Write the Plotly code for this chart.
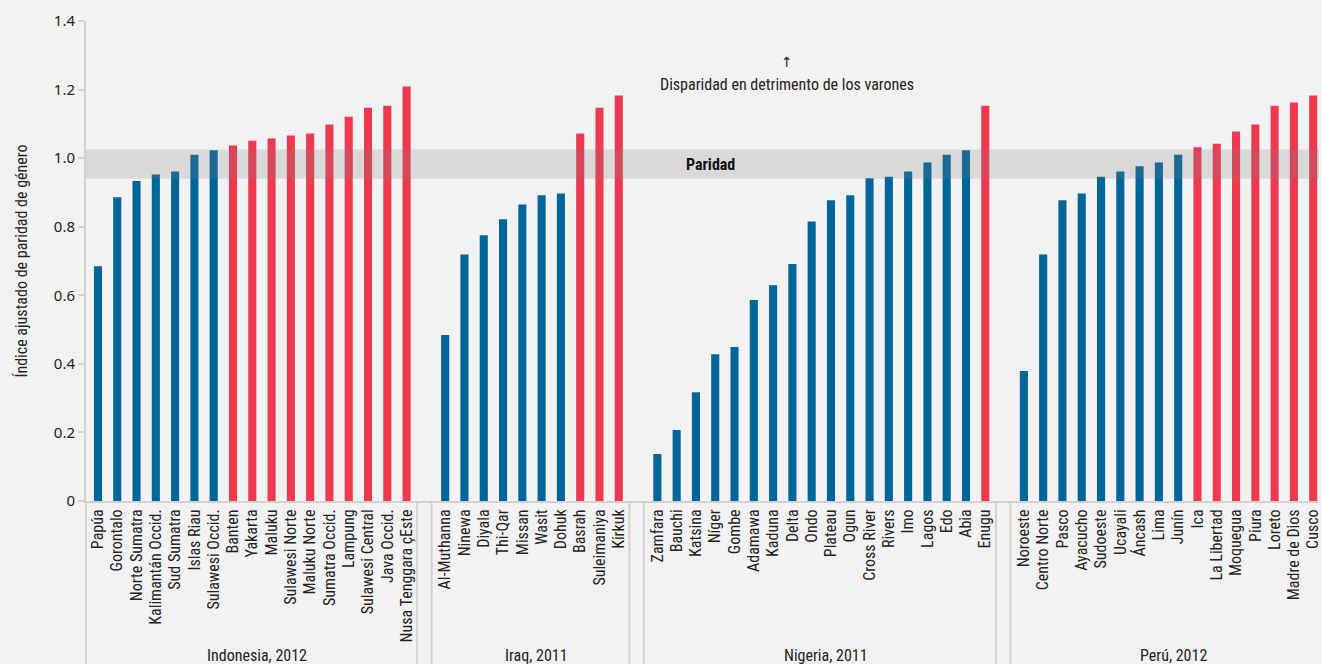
import plotly.graph_objects as go

indonesia_names = ["Papúa", "Gorontalo", "Norte Sumatra", "Kalimantán Occid.", "Sud Sumatra", "Islas Riau",
                   "Sulawesi Occid.", "Banten", "Yakarta", "Maluku", "Sulawesi Norte", "Maluku Norte",
                   "Sumatra Occid.", "Lampung", "Sulawesi Central", "Java Occid.", "Nusa Tenggara çEste"]
indonesia_values = [0.685, 0.886, 0.933, 0.952, 0.961, 1.010, 1.023, 1.037, 1.051, 1.057, 1.066, 1.072,
                    1.098, 1.121, 1.147, 1.153, 1.209]

iraq_names = ["Al-Muthanna", "Ninewa", "Diyala", "Thi-Qar", "Missan", "Wasit", "Dohuk", "Basrah",
              "Suleimaniya", "Kirkuk"]
iraq_values = [0.484, 0.719, 0.775, 0.822, 0.865, 0.892, 0.897, 1.072, 1.147, 1.183]

nigeria_names = ["Zamfara", "Bauchi", "Katsina", "Níger", "Gombe", "Adamawa", "Kaduna", "Delta", "Ondo",
                 "Plateau", "Ogun", "Cross River", "Rivers", "Imo", "Lagos", "Edo", "Abia", "Enugu"]
nigeria_values = [0.137, 0.207, 0.317, 0.428, 0.449, 0.586, 0.629, 0.691, 0.815, 0.877, 0.892, 0.941,
                  0.946, 0.961, 0.987, 1.010, 1.023, 1.153]

peru_names = ["Noroeste", "Centro Norte", "Pasco", "Ayacucho", "Sudoeste", "Ucayali", "Áncash", "Lima",
              "Junín", "Ica", "La Libertad", "Moquegua", "Piura", "Loreto", "Madre de Dios", "Cusco"]
peru_values = [0.379, 0.719, 0.877, 0.897, 0.946, 0.961, 0.976, 0.987, 1.010, 1.032, 1.042, 1.078,
               1.098, 1.153, 1.162, 1.183]

group_labels = ["Indonesia, 2012", "Iraq, 2011", "Nigeria, 2011", "Perú, 2012"]
y_tickvals = [0, 0.2, 0.4, 0.6, 0.8, 1.0, 1.2, 1.4]
y_ticktext = ["0", "0.2", "0.4", "0.6", "0.8", "1.0", "1.2", "1.4"]

parity_low, parity_high = 0.94, 1.025

BLUE = "#006699"
RED = "#EE3A50"
GREY = "#d2d2d2"
FONT = "Liberation Sans Narrow, Roboto Condensed, Roboto, sans-serif"
FONT2 = "Noto Sans, Open Sans, sans-serif"

groups = [(indonesia_names, indonesia_values), (iraq_names, iraq_values),
          (nigeria_names, nigeria_values), (peru_names, peru_values)]

x_cats, y_vals, colors = [], [], []
group_spans = []
for gi, (names, vals) in enumerate(groups):
    start = len(x_cats)
    for n, v in zip(names, vals):
        x_cats.append(n)
        y_vals.append(v)
        colors.append(RED if v > parity_high else BLUE)
    end = len(x_cats) - 1
    group_spans.append((start, end))
    if gi < len(groups) - 1:
        x_cats.append(" " * (gi + 1))
        y_vals.append(None)
        colors.append(BLUE)

fig = go.Figure(go.Bar(x=x_cats, y=y_vals, marker=dict(color=colors, line=dict(width=0)),
                       showlegend=False, hoverinfo="x+y"))

shapes = []
shapes.append(dict(type="rect", xref="paper", yref="y", x0=0, x1=1, y0=parity_low, y1=parity_high,
                   fillcolor="rgba(128,128,134,0.21)", line=dict(width=0), layer="above"))
shapes.append(dict(type="line", xref="paper", yref="paper", x0=0, x1=0, y0=0, y1=-0.36,
                   line=dict(color=GREY, width=2)))
annotations = []
for gi, (s, e) in enumerate(group_spans):
    if gi > 0:
        shapes.append(dict(type="line", xref="x", yref="paper", x0=s - 0.7, x1=s - 0.7, y0=0, y1=-0.36,
                           line=dict(color=GREY, width=2)))
    if gi < len(group_spans) - 1:
        shapes.append(dict(type="line", xref="x", yref="paper", x0=e + 0.55, x1=e + 0.55, y0=0, y1=-0.36,
                           line=dict(color=GREY, width=2)))
    annotations.append(dict(x=(s + e) / 2 + 0.25, xref="x", y=-0.321, yref="paper", text=group_labels[gi],
                            showarrow=False, yanchor="middle",
                            font=dict(family=FONT, size=16, color="#222")))

annotations.append(dict(x=31.75, xref="x", y=(parity_low + parity_high) / 2, yref="y", text="<b>Paridad</b>",
                        showarrow=False, font=dict(family=FONT, size=16, color="#111")))
annotations.append(dict(x=35.73, xref="x", y=1.28, yref="y", text="↑",
                        showarrow=False, font=dict(family="DejaVu Sans", size=14, color="#222")))
annotations.append(dict(x=35.73, xref="x", y=1.216, yref="y", text="Disparidad en detrimento de los varones",
                        showarrow=False, font=dict(family=FONT, size=16, color="#222")))

fig.update_layout(
    width=1322, height=664,
    margin=dict(l=86, r=0, t=21, b=163),
    paper_bgcolor="#f2f2f2", plot_bgcolor="#f2f2f2",
    bargap=0.58,
    shapes=shapes, annotations=annotations,
    font=dict(family=FONT, size=16, color="#222"),
    xaxis=dict(type="category", categoryorder="array", categoryarray=x_cats,
               tickmode="array", tickvals=x_cats, ticktext=x_cats,
               range=[-0.62, len(x_cats) - 1 + 0.3], tickangle=-90, showgrid=False,
               showline=True, linecolor=GREY, linewidth=2, ticks="",
               tickfont=dict(family=FONT, size=16, color="#222"), fixedrange=True),
    yaxis=dict(range=[0, 1.4], tickvals=y_tickvals, ticktext=y_ticktext, showgrid=False, zeroline=False,
               showline=True, linecolor=GREY, linewidth=2, ticks="outside", ticklen=6, tickcolor=GREY,
               tickwidth=2,
               tickfont=dict(family=FONT2, size=15, color="#222"),
               title=dict(text="Índice ajustado de paridad de género", standoff=22,
                          font=dict(family=FONT, size=16, color="#222"))),
)

fig.write_html("out.html", config={"displayModeBar": False},
               post_script="document.body.style.margin='0';document.body.style.overflow='hidden';")
